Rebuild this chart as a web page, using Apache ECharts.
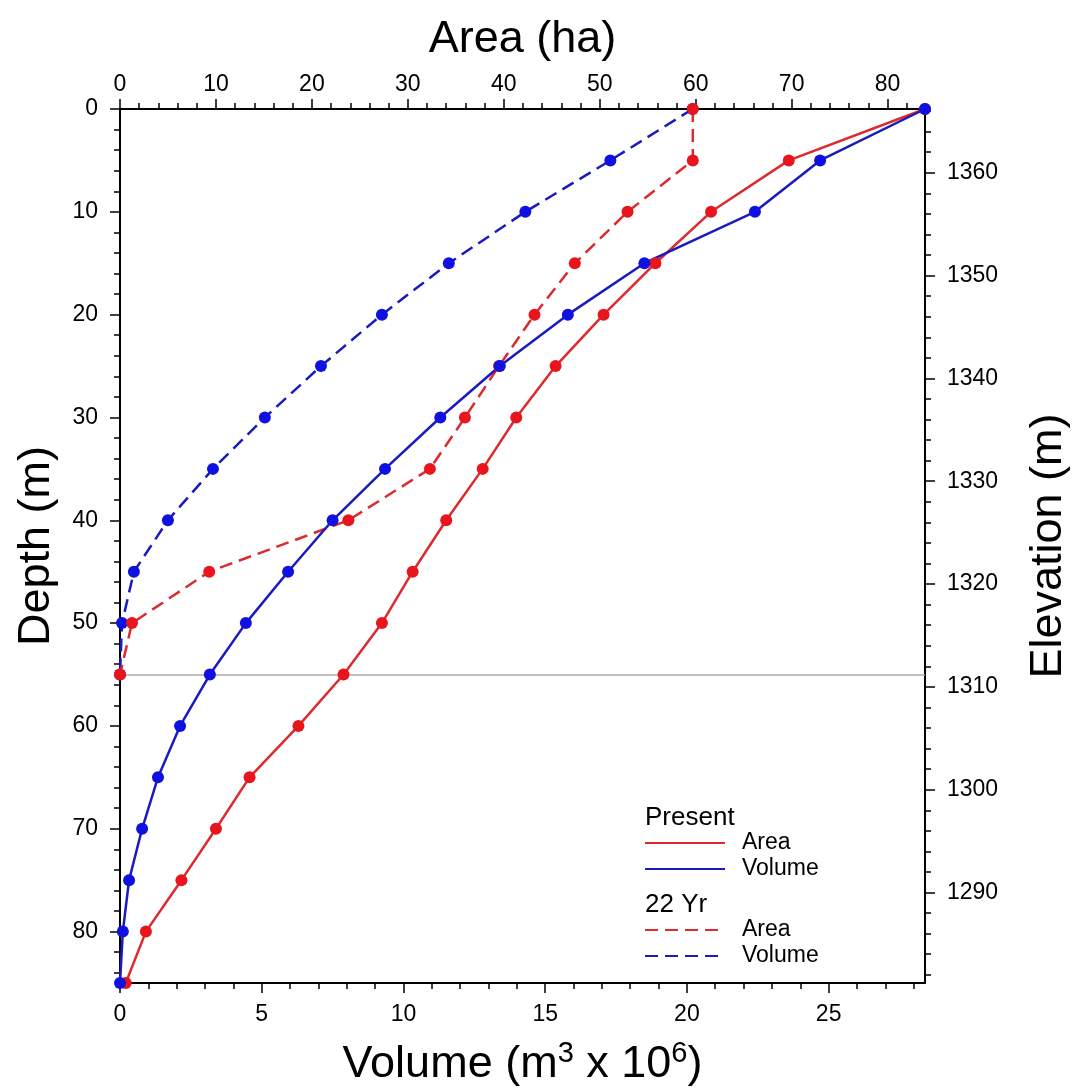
<!DOCTYPE html>
<html>
<head>
<meta charset="utf-8">
<script src="https://cdn.jsdelivr.net/npm/echarts@6/dist/echarts.min.js"></script>
<style>html,body{margin:0;padding:0;background:#fff}#chart{width:1077px;height:1091px}</style>
</head>
<body>
<div id="chart"></div>
<script>
// ---- data ----
const depths = [0,5,10,15,20,25,30,35,40,45,50,55,60,65,70,75,80,85];
const presentArea   = [83.9,69.7,61.6,55.8,50.4,45.4,41.3,37.8,34.0,30.5,27.3,23.3,18.6,13.5,10.0,6.4,2.7,0.6];
const presentVolume = [28.4,24.7,22.4,18.5,15.8,13.4,11.3,9.35,7.5,5.93,4.44,3.17,2.12,1.34,0.78,0.32,0.1,0];
const yr22Depths = [0,5,10,15,20,25,30,35,40,45,50,55];
const yr22Area   = [59.7,59.7,52.9,47.4,43.2,39.5,35.95,32.3,23.8,9.3,1.25,0];
const yr22Volume = [20.2,17.3,14.3,11.6,9.24,7.09,5.11,3.28,1.69,0.49,0.07,0];
const referenceDepth = [55];
// ---- axis ticks ----
const depthLabels = [0,10,20,30,40,50,60,70,80];
const areaLabels = [0,10,20,30,40,50,60,70,80];
const volumeLabels = [0,5,10,15,20,25];
const elevationLabels = [1290,1300,1310,1320,1330,1340,1350,1360];
const depthRange = [0,85];
const areaRange = [0,83.9];
const volumeRange = [0,28.4];
const elevationRange = [1281.2,1366.2];

function steps(a, b, s){ const r=[]; for(let v=a; v<=b+1e-9; v+=s) r.push(Math.round(v*1000)/1000); return r; }
const depthMinor = steps(0,84,2);
const areaMinor = steps(0,82,2);
const volumeMinor = steps(0,28,1);
const elevationMinor = steps(1282,1366,2);

const FONT = 'Liberation Sans, Arial, Helvetica, sans-serif';
const RED = '#e8161c', BLUE = '#1010e0';
const RED_L = '#dd2a2e', BLUE_L = '#1a1ac0';
const gridRect = {left:120, right:152, top:109, bottom:108, containLabel:false, outerBoundsMode:'none'};
const lineAx = () => ({show:true, onZero:false, lineStyle:{color:'#000', width:2}});
const noLine = () => ({show:false, onZero:false});
const lbl = (vals, margin) => ({show:true, customValues: vals, fontSize:23, color:'#000', fontFamily:FONT, margin: margin,
                                formatter: (v) => String(v)});
const majTick = (vals) => ({show:true, customValues: vals, length:10, lineStyle:{color:'#000', width:1.5}});
const minTick = (vals) => ({show:true, customValues: vals, length:6, lineStyle:{color:'#000', width:1.5}});
const nameStyle = {fontSize:45, color:'#000', fontFamily:FONT};

function pairs(xs, ys){ return xs.map((x,i)=>[x, ys[i]]); }

const chart = echarts.init(document.getElementById('chart'), null, {renderer:'canvas'});
const option = {
  backgroundColor:'#fff',
  animation:false,
  grid:[Object.assign({}, gridRect), Object.assign({}, gridRect)],
  xAxis:[
    {type:'value', gridIndex:0, position:'bottom', min:volumeRange[0], max:volumeRange[1],
     axisLine:lineAx(), axisTick:majTick(volumeLabels), axisLabel:lbl(volumeLabels, 20), splitLine:{show:false},
     name:'{a|Volume (m}{s|3}{a| x 10}{s|6}{a|)}', nameLocation:'middle', nameGap:56,
     nameTextStyle:{fontFamily:FONT, color:'#000', rich:{
        a:{fontSize:45, fontFamily:FONT, color:'#000', verticalAlign:'bottom', lineHeight:48},
        s:{fontSize:29, fontFamily:FONT, color:'#000', verticalAlign:'top', lineHeight:48}}}},
    {type:'value', gridIndex:0, position:'top', min:areaRange[0], max:areaRange[1],
     axisLine:lineAx(), axisTick:majTick(areaLabels), axisLabel:lbl(areaLabels, 13), splitLine:{show:false},
     name:'Area (ha)', nameLocation:'middle', nameGap:47, nameTextStyle:nameStyle},
    {type:'value', gridIndex:1, position:'bottom', min:volumeRange[0], max:volumeRange[1],
     axisLine:noLine(), axisTick:minTick(volumeMinor), axisLabel:{show:false}, splitLine:{show:false}},
    {type:'value', gridIndex:1, position:'top', min:areaRange[0], max:areaRange[1],
     axisLine:noLine(), axisTick:minTick(areaMinor), axisLabel:{show:false}, splitLine:{show:false}}
  ],
  yAxis:[
    {type:'value', gridIndex:0, position:'left', inverse:true, min:depthRange[0], max:depthRange[1],
     axisLine:lineAx(), axisTick:majTick(depthLabels), axisLabel:lbl(depthLabels, 22), splitLine:{show:false},
     name:'Depth (m)', nameLocation:'middle', nameGap:61, nameRotate:90, nameTextStyle:nameStyle},
    {type:'value', gridIndex:0, position:'right', min:elevationRange[0], max:elevationRange[1],
     axisLine:lineAx(), axisTick:majTick(elevationLabels), axisLabel:lbl(elevationLabels, 22), splitLine:{show:false},
     name:'Elevation (m)', nameLocation:'middle', nameGap:101, nameRotate:90, nameTextStyle:nameStyle},
    {type:'value', gridIndex:1, position:'left', inverse:true, min:depthRange[0], max:depthRange[1],
     axisLine:noLine(), axisTick:minTick(depthMinor), axisLabel:{show:false}, splitLine:{show:false}},
    {type:'value', gridIndex:1, position:'right', min:elevationRange[0], max:elevationRange[1],
     axisLine:noLine(), axisTick:minTick(elevationMinor), axisLabel:{show:false}, splitLine:{show:false}}
  ],
  series:[
    {name:'22 Yr Volume', type:'line', xAxisIndex:0, yAxisIndex:0, data:pairs(yr22Volume, yr22Depths),
     symbol:'circle', symbolSize:12, clip:false, itemStyle:{color:BLUE},
     lineStyle:{color:BLUE_L, width:2.5, type:[13,7]}},
    {name:'22 Yr Area', type:'line', xAxisIndex:1, yAxisIndex:0, data:pairs(yr22Area, yr22Depths),
     symbol:'circle', symbolSize:12, clip:false, itemStyle:{color:RED},
     lineStyle:{color:RED_L, width:2.5, type:[13,7]}},
    {name:'Present Area', type:'line', xAxisIndex:1, yAxisIndex:0, data:pairs(presentArea, depths),
     symbol:'circle', symbolSize:12, clip:false, itemStyle:{color:RED},
     lineStyle:{color:RED_L, width:2.5}},
    {name:'Present Volume', type:'line', xAxisIndex:0, yAxisIndex:0, data:pairs(presentVolume, depths),
     symbol:'circle', symbolSize:12, clip:false, itemStyle:{color:BLUE},
     lineStyle:{color:BLUE_L, width:2.5},
     markLine:{silent:true, symbol:'none', label:{show:false}, z:1,
       lineStyle:{color:'#aaaaaa', width:1.5, type:'solid'},
       data:referenceDepth.map(d=>({yAxis:d}))}}
  ],
  graphic:[
    {type:'text', left:645, top:805, style:{text:'Present', fontSize:26, fontFamily:FONT, fill:'#000'}},
    {type:'line', shape:{x1:645, y1:843, x2:725, y2:843}, style:{stroke:RED_L, lineWidth:2}},
    {type:'text', left:742, top:831, style:{text:'Area', fontSize:23, fontFamily:FONT, fill:'#000'}},
    {type:'line', shape:{x1:645, y1:869, x2:725, y2:869}, style:{stroke:BLUE_L, lineWidth:2}},
    {type:'text', left:742, top:857, style:{text:'Volume', fontSize:23, fontFamily:FONT, fill:'#000'}},
    {type:'text', left:645, top:892, style:{text:'22 Yr', fontSize:26, fontFamily:FONT, fill:'#000'}},
    {type:'line', shape:{x1:645, y1:930, x2:725, y2:930}, style:{stroke:RED_L, lineWidth:2, lineDash:[13,7]}},
    {type:'text', left:742, top:918, style:{text:'Area', fontSize:23, fontFamily:FONT, fill:'#000'}},
    {type:'line', shape:{x1:645, y1:956, x2:725, y2:956}, style:{stroke:BLUE_L, lineWidth:2, lineDash:[13,7]}},
    {type:'text', left:742, top:944, style:{text:'Volume', fontSize:23, fontFamily:FONT, fill:'#000'}}
  ]
};
chart.setOption(option);
</script>
</body>
</html>
